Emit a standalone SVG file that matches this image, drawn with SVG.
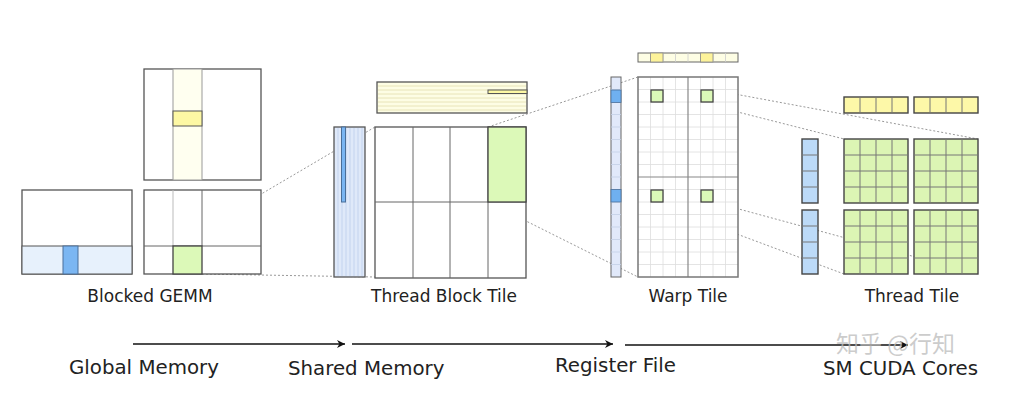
<svg xmlns="http://www.w3.org/2000/svg" width="1030" height="403" viewBox="0 0 1030 403">
<defs>
<marker id="ah" viewBox="0 0 10 10" refX="10" refY="5" markerWidth="10" markerHeight="8" markerUnits="userSpaceOnUse" orient="auto"><path d="M0,0 L10,5 L0,10 L3,5 z" fill="#111"/></marker>
</defs>
<style>
.frame{fill:#fff;stroke:#555;stroke-width:1.3}
.thin{stroke:#666;stroke-width:1;fill:none}
.faint{stroke:#bbb;stroke-width:1;fill:none}
.grid{stroke:#ddd;stroke-width:0.8;fill:none}
.dot{stroke:#999;stroke-width:1;stroke-dasharray:2,2;fill:none}
.green{fill:#dcf9b8;stroke:#444;stroke-width:1.3}
.blue{fill:#7bb6f2;stroke:#4a6f99;stroke-width:1}
.yellow{fill:#fdf8a4;stroke:#555;stroke-width:1}
.lblue{fill:#e7f1fc;stroke:#555;stroke-width:1}
.lyellow{fill:#fdfde4;stroke:#555;stroke-width:1.3}
.tgreen{fill:#dcf5b4;stroke:#444;stroke-width:1.4}
.tblue{fill:#bcdaf8;stroke:#444;stroke-width:1.4}
.tyellow{fill:#fdf8a8;stroke:#444;stroke-width:1.4}
.cell{stroke:#777;stroke-width:1;fill:none}
.lbl{font-family:"DejaVu Sans",Verdana,sans-serif;font-size:17px;fill:#222;text-anchor:middle}
.mem{font-family:"DejaVu Sans",Verdana,sans-serif;font-size:19.8px;fill:#222}
.arrow{stroke:#111;stroke-width:1.6;fill:none}
</style>

<g id="connectors">
<line class="dot" x1="173" y1="246" x2="375" y2="127"/>
<line class="dot" x1="202" y1="274" x2="375" y2="277"/>
<line class="dot" x1="488" y1="127" x2="638" y2="77"/>
<line class="dot" x1="488" y1="202" x2="638" y2="277"/>
<line class="dot" x1="651" y1="90" x2="844" y2="139"/>
<line class="dot" x1="713" y1="90" x2="978" y2="139"/>
<line class="dot" x1="651" y1="202" x2="844" y2="274"/>
<line class="dot" x1="713" y1="202" x2="978" y2="274"/>
<line class="arrow" x1="133" y1="344" x2="345" y2="344" marker-end="url(#ah)"/>
<line class="arrow" x1="352" y1="344" x2="613" y2="344" marker-end="url(#ah)"/>
<line class="arrow" x1="625" y1="345" x2="908" y2="345" marker-end="url(#ah)"/>
</g>

<g id="blocked-gemm-b">
<rect class="frame" x="144" y="69" width="117" height="111"/>
<rect x="173" y="69" width="29" height="111" fill="#fffff0" stroke="#999" stroke-width="1"/>
<rect class="yellow" x="173" y="111" width="29" height="15"/>
</g>
<g id="blocked-gemm-a">
<rect class="frame" x="22" y="190" width="110" height="84"/>
<rect class="lblue" x="22" y="246" width="110" height="28"/>
<rect class="blue" x="63" y="246" width="15" height="28"/>
</g>
<g id="blocked-gemm-c">
<rect class="frame" x="144" y="190" width="117" height="84"/>
<line class="faint" x1="173" y1="190" x2="173" y2="246"/>
<line class="thin" x1="202" y1="190" x2="202" y2="246"/>
<line class="thin" x1="144" y1="246" x2="261" y2="246"/>
<rect class="green" x="173" y="246" width="29" height="28"/>
</g>

<g id="tb-b">
<rect class="lyellow" x="377" y="82" width="150" height="31"/>
<g stroke="#e8e4b8" stroke-width="1">
<line x1="378" y1="86" x2="526" y2="86"/><line x1="378" y1="90" x2="526" y2="90"/><line x1="378" y1="94" x2="526" y2="94"/><line x1="378" y1="98" x2="526" y2="98"/><line x1="378" y1="102" x2="526" y2="102"/><line x1="378" y1="106" x2="526" y2="106"/><line x1="378" y1="110" x2="526" y2="110"/>
</g>
<rect x="488" y="90" width="39" height="3.5" fill="#fdf8a4" stroke="#555" stroke-width="1"/>
</g>
<g id="tb-a">
<rect x="334" y="127" width="31" height="150" fill="#dfe9f9" stroke="#555" stroke-width="1.3"/>
<g stroke="#c3d3ee" stroke-width="1">
<line x1="338" y1="128" x2="338" y2="276"/><line x1="342" y1="128" x2="342" y2="276"/><line x1="346" y1="128" x2="346" y2="276"/><line x1="350" y1="128" x2="350" y2="276"/><line x1="354" y1="128" x2="354" y2="276"/><line x1="358" y1="128" x2="358" y2="276"/><line x1="362" y1="128" x2="362" y2="276"/>
</g>
<rect x="341.5" y="127" width="4" height="75" fill="#7bb6f2" stroke="#4a6f99" stroke-width="1"/>
</g>
<g id="tb-c">
<rect class="frame" x="375" y="127" width="151" height="151"/>
<line class="thin" x1="413" y1="127" x2="413" y2="278"/>
<line class="thin" x1="450" y1="127" x2="450" y2="278"/>
<line class="thin" x1="488" y1="127" x2="488" y2="278"/>
<line class="thin" x1="375" y1="202" x2="526" y2="202"/>
<rect class="green" x="488" y="127" width="38" height="75"/>
</g>

<g id="warp-b">
<rect x="638" y="53" width="100" height="9" fill="#fdfde4" stroke="#666" stroke-width="1"/>
<g stroke="#ccc" stroke-width="0.8">
<line x1="650.5" y1="53" x2="650.5" y2="62"/><line x1="663" y1="53" x2="663" y2="62"/><line x1="675.5" y1="53" x2="675.5" y2="62"/><line x1="688" y1="53" x2="688" y2="62"/><line x1="700.5" y1="53" x2="700.5" y2="62"/><line x1="713" y1="53" x2="713" y2="62"/><line x1="725.5" y1="53" x2="725.5" y2="62"/>
</g>
<rect x="650.5" y="53" width="12.5" height="9" fill="#fdf39a" stroke="#888" stroke-width="0.8"/>
<rect x="700.5" y="53" width="12.5" height="9" fill="#fdf39a" stroke="#888" stroke-width="0.8"/>
</g>
<g id="warp-a">
<rect x="611" y="77" width="10" height="200" fill="#e1e9fa" stroke="#666" stroke-width="1"/>
<g stroke="#c3cfe6" stroke-width="0.8">
<line x1="611" y1="89.5" x2="621" y2="89.5"/><line x1="611" y1="102" x2="621" y2="102"/><line x1="611" y1="114.5" x2="621" y2="114.5"/><line x1="611" y1="127" x2="621" y2="127"/><line x1="611" y1="139.5" x2="621" y2="139.5"/><line x1="611" y1="152" x2="621" y2="152"/><line x1="611" y1="164.5" x2="621" y2="164.5"/><line x1="611" y1="177" x2="621" y2="177"/><line x1="611" y1="189.5" x2="621" y2="189.5"/><line x1="611" y1="202" x2="621" y2="202"/><line x1="611" y1="214.5" x2="621" y2="214.5"/><line x1="611" y1="227" x2="621" y2="227"/><line x1="611" y1="239.5" x2="621" y2="239.5"/><line x1="611" y1="252" x2="621" y2="252"/><line x1="611" y1="264.5" x2="621" y2="264.5"/>
</g>
<rect x="611" y="90" width="10" height="12.5" fill="#6fb0f0" stroke="#4a6f99" stroke-width="0.8"/>
<rect x="611" y="189.5" width="10" height="12.5" fill="#6fb0f0" stroke="#4a6f99" stroke-width="0.8"/>
</g>
<g id="warp-c">
<rect x="638" y="77" width="100" height="200" fill="#fff"/>
<g class="grid">
<line x1="650.5" y1="77" x2="650.5" y2="277"/><line x1="663" y1="77" x2="663" y2="277"/><line x1="675.5" y1="77" x2="675.5" y2="277"/><line x1="700.5" y1="77" x2="700.5" y2="277"/><line x1="713" y1="77" x2="713" y2="277"/><line x1="725.5" y1="77" x2="725.5" y2="277"/>
<line x1="638" y1="89.5" x2="738" y2="89.5"/><line x1="638" y1="102" x2="738" y2="102"/><line x1="638" y1="114.5" x2="738" y2="114.5"/><line x1="638" y1="127" x2="738" y2="127"/><line x1="638" y1="139.5" x2="738" y2="139.5"/><line x1="638" y1="152" x2="738" y2="152"/><line x1="638" y1="164.5" x2="738" y2="164.5"/><line x1="638" y1="189.5" x2="738" y2="189.5"/><line x1="638" y1="202" x2="738" y2="202"/><line x1="638" y1="214.5" x2="738" y2="214.5"/><line x1="638" y1="227" x2="738" y2="227"/><line x1="638" y1="239.5" x2="738" y2="239.5"/><line x1="638" y1="252" x2="738" y2="252"/><line x1="638" y1="264.5" x2="738" y2="264.5"/>
</g>
<line x1="688" y1="77" x2="688" y2="277" stroke="#888" stroke-width="1.2"/>
<line x1="638" y1="177" x2="738" y2="177" stroke="#888" stroke-width="1.2"/>
<rect x="638" y="77" width="100" height="200" fill="none" stroke="#777" stroke-width="1.5"/>
<rect class="green" x="651" y="90" width="12" height="12"/>
<rect class="green" x="701" y="90" width="12" height="12"/>
<rect class="green" x="651" y="190" width="12" height="12"/>
<rect class="green" x="701" y="190" width="12" height="12"/>
</g>

<g id="thread-b">
<rect class="tyellow" x="844" y="97" width="64" height="16"/>
<line class="cell" x1="860" y1="97" x2="860" y2="113"/><line class="cell" x1="876" y1="97" x2="876" y2="113"/><line class="cell" x1="892" y1="97" x2="892" y2="113"/>
<rect class="tyellow" x="914" y="97" width="64" height="16"/>
<line class="cell" x1="930" y1="97" x2="930" y2="113"/><line class="cell" x1="946" y1="97" x2="946" y2="113"/><line class="cell" x1="962" y1="97" x2="962" y2="113"/>
</g>
<g id="thread-a">
<rect class="tblue" x="802" y="139" width="16" height="64"/>
<line class="cell" x1="802" y1="155" x2="818" y2="155"/><line class="cell" x1="802" y1="171" x2="818" y2="171"/><line class="cell" x1="802" y1="187" x2="818" y2="187"/>
<rect class="tblue" x="802" y="210" width="16" height="64"/>
<line class="cell" x1="802" y1="226" x2="818" y2="226"/><line class="cell" x1="802" y1="242" x2="818" y2="242"/><line class="cell" x1="802" y1="258" x2="818" y2="258"/>
</g>
<g id="thread-c">
<g id="tc11">
<rect class="tgreen" x="844" y="139" width="64" height="64"/>
<path class="cell" d="M860,139V203M876,139V203M892,139V203M844,155H908M844,171H908M844,187H908"/>
</g>
<g id="tc12">
<rect class="tgreen" x="914" y="139" width="64" height="64"/>
<path class="cell" d="M930,139V203M946,139V203M962,139V203M914,155H978M914,171H978M914,187H978"/>
</g>
<g id="tc21">
<rect class="tgreen" x="844" y="210" width="64" height="64"/>
<path class="cell" d="M860,210V274M876,210V274M892,210V274M844,226H908M844,242H908M844,258H908"/>
</g>
<g id="tc22">
<rect class="tgreen" x="914" y="210" width="64" height="64"/>
<path class="cell" d="M930,210V274M946,210V274M962,210V274M914,226H978M914,242H978M914,258H978"/>
</g>
</g>

<g id="labels">
<text class="lbl" x="150" y="302">Blocked GEMM</text>
<text class="lbl" x="444" y="302">Thread Block Tile</text>
<text class="lbl" x="688" y="302">Warp Tile</text>
<text class="lbl" x="912" y="302">Thread Tile</text>
<text class="mem" x="69" y="374">Global Memory</text>
<text class="mem" x="288" y="375">Shared Memory</text>
<text class="mem" x="555" y="372">Register File</text>
<text class="mem" x="823" y="375">SM CUDA Cores</text>
<text x="836" y="352" font-family="'Noto Sans CJK SC',sans-serif" font-size="23" fill="#bbb" fill-opacity="0.75">知乎 @行知</text>
</g>
</svg>
